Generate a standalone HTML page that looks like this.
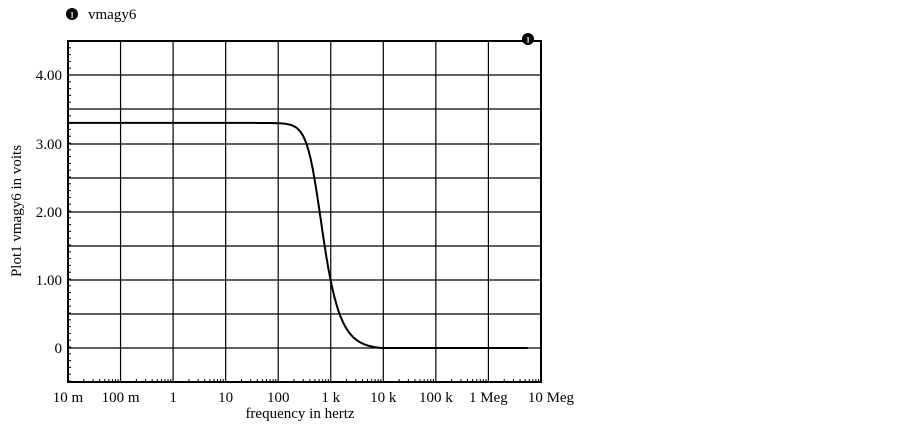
<!DOCTYPE html>
<html><head><meta charset="utf-8"><style>
html,body{margin:0;padding:0;background:#fff;width:902px;height:431px;overflow:hidden}
text{font-family:"Liberation Serif",serif;fill:#000}
</style></head><body>
<svg id="s" width="902" height="431" xmlns="http://www.w3.org/2000/svg">
<circle cx="72" cy="14" r="6" fill="#000"/><text x="72" y="17.5" font-size="8" text-anchor="middle" style="fill:#fff" font-weight="bold">1</text>
<text x="88" y="19" font-size="15">vmagy6</text>
<g id="grid" stroke="#000" stroke-width="1.2"></g>
<rect x="68" y="41" width="473" height="341" fill="none" stroke="#000" stroke-width="2"/>
<g font-size="15" text-anchor="end">
<text x="62" y="80">4.00</text><text x="62" y="149">3.00</text><text x="62" y="217">2.00</text><text x="62" y="285">1.00</text><text x="62" y="353">0</text>
</g>
<g font-size="15" text-anchor="middle" id="xl"></g>
<text x="300" y="418" font-size="15" text-anchor="middle">frequency in hertz</text>
<text transform="translate(21,211) rotate(-90)" font-size="15" text-anchor="middle">Plot1 vmagy6 in voits</text>
<polyline id="c" fill="none" stroke="#000" stroke-width="2"/>
<circle cx="528" cy="39" r="6" fill="#000"/><text x="528" y="42.5" font-size="8" text-anchor="middle" style="fill:#fff" font-weight="bold">1</text>
</svg>
<script>
var g=document.getElementById('grid'),ns="http://www.w3.org/2000/svg";
function L(x1,y1,x2,y2,w){var l=document.createElementNS(ns,'line');l.setAttribute('x1',x1);l.setAttribute('y1',y1);l.setAttribute('x2',x2);l.setAttribute('y2',y2);if(w)l.setAttribute('stroke-width',w);g.appendChild(l);}
var dx=52.55;
for(var i=1;i<9;i++){var x=68+i*dx;L(x,41,x,382);}
var ys=[75,109,144,178,212,246,280,314,348];
ys.forEach(function(y){L(68,y,541,y);});
for(var i=0;i<9;i++){for(var k=2;k<10;k++){var x=68+(i+Math.log10(k))*dx;L(x,379,x,382,1);}}
for(var y=41;y<382;y+=6.8){L(68,y,71,y,1);}
var labs=["10 m","100 m","1","10","100","1 k","10 k","100 k","1 Meg","10 Meg"],xl=document.getElementById('xl');
labs.forEach(function(t,i){var e=document.createElementNS(ns,'text');e.setAttribute('x',68+i*dx+(i==9?10:0));e.setAttribute('y',402);e.textContent=t;xl.appendChild(e);});
var pts=[];
for(var lx=-2;lx<=6.75;lx+=0.01){var f=Math.pow(10,lx);var v=3.32/Math.sqrt(1+Math.pow(f/529,3.6));v=Math.max(0,v-0.02);var x=68+(lx+2)*dx;var y=348-v*68.2;pts.push(x.toFixed(1)+","+y.toFixed(1));}
document.getElementById('c').setAttribute('points',pts.join(' '));
</script>
</body></html>
